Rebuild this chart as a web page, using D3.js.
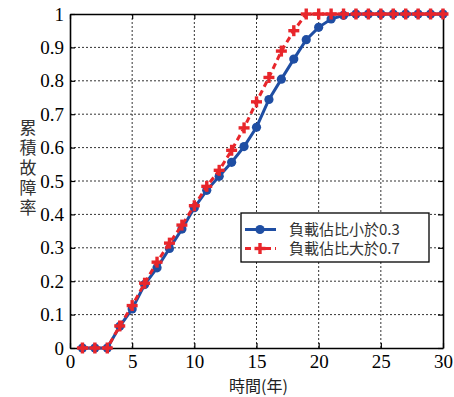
<!DOCTYPE html>
<html>
<head>
<meta charset="utf-8">
<script src="https://cdn.jsdelivr.net/npm/d3@7"></script>
<style>
  html, body { margin: 0; padding: 0; background: #fff; }
  svg { display: block; }
  .tick text { font-family: "Times New Roman", Times, "Liberation Serif", "DejaVu Serif", serif; font-size: 19px; }
</style>
</head>
<body>
<svg id="chart" width="454" height="397"></svg>
<script>
// Years of service
const years = d3.range(1, 31);
// Cumulative failure rate, load ratio below 0.3
const lowLoad = [0, 0, 0, 0.065, 0.117, 0.19, 0.24, 0.298, 0.356, 0.42,
                 0.472, 0.514, 0.556, 0.603, 0.661, 0.744, 0.805, 0.865, 0.923, 0.96,
                 0.985, 0.996, 1, 1, 1, 1, 1, 1, 1, 1];
// Cumulative failure rate, load ratio above 0.7
const highLoad = [0, 0, 0, 0.066, 0.127, 0.194, 0.257, 0.314, 0.368, 0.426,
                  0.484, 0.532, 0.592, 0.659, 0.737, 0.81, 0.889, 0.95, 1, 1,
                  1, 1, 1, 1, 1, 1, 1, 1, 1, 1];
const xTicks = [0, 5, 10, 15, 20, 25, 30];
const yTicks = [0, 0.1, 0.2, 0.3, 0.4, 0.5, 0.6, 0.7, 0.8, 0.9, 1];
const seriesNames = ["負載佔比小於0.3", "負載佔比大於0.7"];

const svg = d3.select("#chart");
const plotL = 70, plotR = 443, plotT = 14, plotB = 348;
const x = d3.scaleLinear().domain([0, 30]).range([plotL, plotR]);
const y = d3.scaleLinear().domain([0, 1]).range([plotB, plotT]);

const blue = "#1f4ea3", red = "#e8262b";
const cjk = "'Noto Sans CJK TC', 'Noto Sans CJK SC', sans-serif";

// grid
const grid = svg.append("g");
grid.selectAll("line.gx").data(xTicks.slice(1, -1)).join("line")
  .attr("x1", d => x(d)).attr("x2", d => x(d)).attr("y1", plotT).attr("y2", plotB)
  .attr("stroke", "#333").attr("stroke-width", 1).attr("stroke-dasharray", "2,2");
grid.selectAll("line.gy").data(yTicks.slice(1, -1)).join("line")
  .attr("y1", d => y(d)).attr("y2", d => y(d)).attr("x1", plotL).attr("x2", plotR)
  .attr("stroke", "#333").attr("stroke-width", 1).attr("stroke-dasharray", "2,2");

// axes with inward ticks
const axB = svg.append("g").attr("transform", `translate(0,${plotB})`)
  .call(d3.axisBottom(x).tickValues(xTicks).tickSizeInner(-5).tickSizeOuter(0).tickPadding(7));
const axL = svg.append("g").attr("transform", `translate(${plotL},0)`)
  .call(d3.axisLeft(y).tickValues(yTicks).tickSizeInner(-5).tickSizeOuter(0).tickPadding(6)
        .tickFormat(d => d === 0 ? "0" : d === 1 ? "1" : d3.format(".1f")(d)));
const axT = svg.append("g").attr("transform", `translate(0,${plotT})`)
  .call(d3.axisTop(x).tickValues(xTicks).tickSizeInner(-5).tickSizeOuter(0).tickFormat(""));
const axR = svg.append("g").attr("transform", `translate(${plotR},0)`)
  .call(d3.axisRight(y).tickValues(yTicks).tickSizeInner(-5).tickSizeOuter(0).tickFormat(""));
[axB, axL, axT, axR].forEach(a => {
  a.attr("font-family", null).attr("font-size", null);
  a.select(".domain").attr("stroke", "#000").attr("stroke-width", 1.6);
  a.selectAll(".tick line").attr("stroke", "#000").attr("stroke-width", 1.2);
  a.selectAll("text").attr("fill", "#000");
});

// lines
const line = d3.line().x((d, i) => x(years[i])).y(d => y(d));
svg.append("path").datum(lowLoad).attr("d", line)
  .attr("fill", "none").attr("stroke", blue).attr("stroke-width", 3);
svg.append("g").selectAll("circle").data(lowLoad).join("circle")
  .attr("cx", (d, i) => x(years[i])).attr("cy", d => y(d)).attr("r", 4.6).attr("fill", blue);

svg.append("path").datum(highLoad).attr("d", line)
  .attr("fill", "none").attr("stroke", red).attr("stroke-width", 3).attr("stroke-dasharray", "6,4");
const plus = (g, cx, cy, s) => {
  g.append("line").attr("x1", cx - s).attr("x2", cx + s).attr("y1", cy).attr("y2", cy);
  g.append("line").attr("x1", cx).attr("x2", cx).attr("y1", cy - s).attr("y2", cy + s);
};
const plusG = svg.append("g").attr("stroke", red).attr("stroke-width", 3.4);
highLoad.forEach((d, i) => plus(plusG, x(years[i]), y(d), 5.5));

// axis titles
svg.append("text").attr("x", (plotL + plotR) / 2 + 2).attr("y", 392).attr("text-anchor", "middle")
  .style("font-family", cjk).style("font-size", "16px").attr("fill", "#222").text("時間(年)");
svg.append("text").attr("x", 28).attr("y", 119)
  .style("writing-mode", "vertical-rl").style("text-orientation", "upright")
  .style("letter-spacing", "3px")
  .style("font-family", cjk).style("font-size", "17px").attr("fill", "#333").text("累積故障率");

// legend
const lg = svg.append("g");
lg.append("rect").attr("x", 241).attr("y", 213).attr("width", 188).attr("height", 49)
  .attr("fill", "#fff").attr("stroke", "#000").attr("stroke-width", 1.3);
const ly = [229.5, 248.5];
lg.append("line").attr("x1", 245).attr("x2", 276).attr("y1", ly[0]).attr("y2", ly[0])
  .attr("stroke", blue).attr("stroke-width", 3);
lg.append("circle").attr("cx", 260).attr("cy", ly[0]).attr("r", 4.6).attr("fill", blue);
lg.append("line").attr("x1", 245).attr("x2", 276).attr("y1", ly[1]).attr("y2", ly[1])
  .attr("stroke", red).attr("stroke-width", 3).attr("stroke-dasharray", "6,4");
const lp = lg.append("g").attr("stroke", red).attr("stroke-width", 3.4);
plus(lp, 260, ly[1], 5.5);
lg.selectAll("text.lab").data(seriesNames).join("text")
  .attr("x", 289).attr("y", (d, i) => ly[i] + 5.5)
  .style("font-family", cjk).style("font-size", "15px").attr("fill", "#333").text(d => d);
</script>
</body>
</html>
